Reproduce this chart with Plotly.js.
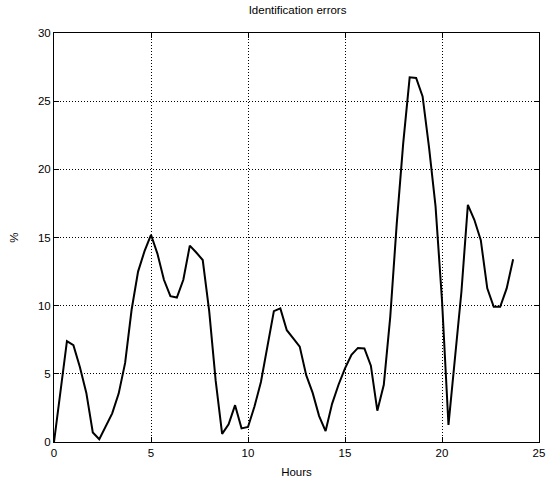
<!DOCTYPE html>
<html>
<head>
<meta charset="utf-8">
<script src="https://cdn.plot.ly/plotly-3.0.1.min.js"></script>
<style>html,body{margin:0;padding:0;background:#fff;}#chart{width:546px;height:484px;}</style>
</head>
<body>
<div id="chart"></div>
<script>
// Sample index k -> hour = k/3 (20-minute steps)
const stepsPerHour = 3;
const errorPct = [
  0.0, 3.7, 7.4, 7.1, 5.5, 3.6, 0.7, 0.2, 1.2, 2.1,
  3.55, 5.8, 9.7, 12.5, 14.0, 15.2, 13.8, 11.9, 10.7, 10.6,
  11.9, 14.4, 13.9, 13.35, 9.6, 4.5, 0.6, 1.3, 2.7, 1.0,
  1.1, 2.6, 4.4, 7.0, 9.6, 9.8, 8.2, 7.6, 7.0, 4.9,
  3.6, 1.9, 0.8, 2.8, 4.2, 5.4, 6.4, 6.9, 6.86, 5.6,
  2.3, 4.2, 9.2, 16.0, 21.9, 26.75, 26.7, 25.35, 21.6, 17.3,
  10.4, 1.25, 6.1, 11.0, 17.4, 16.3, 14.8, 11.27, 9.92, 9.92,
  11.27, 13.4
];
const hours = errorPct.map((_, k) => k / stepsPerHour);
const xTicks = [0, 5, 10, 15, 20, 25];
const yTicks = [0, 5, 10, 15, 20, 25, 30];
const titleText = "Identification errors";
const xLabel = "Hours";
const yLabel = "%";

const fontFam = 'Liberation Sans, Arial, sans-serif';
const axisCommon = {
  showline: true, mirror: 'ticks', linecolor: '#000', linewidth: 1,
  ticks: 'inside', ticklen: 5, tickcolor: '#000',
  showgrid: true, gridcolor: '#000', griddash: '1px,2px', gridwidth: 1,
  zeroline: false,
  tickfont: {family: fontFam, size: 11.5, color: '#000'}
};

Plotly.newPlot('chart', [{
  x: hours, y: errorPct, type: 'scatter', mode: 'lines',
  line: {color: '#000', width: 2}, hoverinfo: 'skip'
}], {
  width: 546, height: 484,
  margin: {l: 54, r: 7, t: 33, b: 42},
  paper_bgcolor: '#fff', plot_bgcolor: '#fff',
  showlegend: false,
  title: {text: titleText, x: 0.545, xanchor: 'center', y: 0.988, yanchor: 'top',
          font: {family: fontFam, size: 11.5, color: '#000'}},
  xaxis: Object.assign({}, axisCommon, {
    range: [0, 25], tickvals: xTicks, ticktext: xTicks.map(String),
    title: {text: xLabel, standoff: 10, font: {family: fontFam, size: 11.5, color: '#000'}}
  }),
  yaxis: Object.assign({}, axisCommon, {
    range: [0, 30], tickvals: yTicks, ticktext: yTicks.map(String),
    title: {text: yLabel, standoff: 16, font: {family: fontFam, size: 11.5, color: '#000'}}
  })
}, {displayModeBar: false, staticPlot: true});
</script>
</body>
</html>
